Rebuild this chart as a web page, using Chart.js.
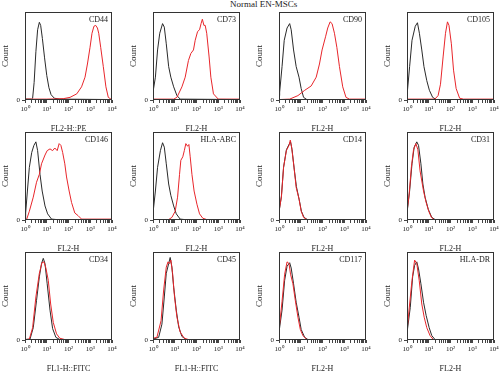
<!DOCTYPE html>
<html>
<head>
<meta charset="utf-8">
<script src="https://cdn.jsdelivr.net/npm/chart.js@4/dist/chart.umd.min.js"></script>
<style>
  body { margin: 0; width: 500px; height: 373px; overflow: hidden; background: #fff; position: relative; }
  #title { position: absolute; left: 230px; top: -1px; font: 9px 'Liberation Serif', serif; color: #222; white-space: nowrap; }
  .panel { position: absolute; }
</style>
</head>
<body>
<div id="title">Normal EN-MSCs</div>

<script>
// x in decades (10^0 .. 10^4), y = relative count
var xTickLabels = ["10\u2070", "10\u00B9", "10\u00B2", "10\u00B3", "10\u2074"];
var markers = ["CD44", "CD73", "CD90", "CD105", "CD146", "HLA-ABC", "CD14", "CD31", "CD34", "CD45", "CD117", "HLA-DR"];
var xTitles = ["FL2-H::PE", "FL2-H", "FL2-H", "FL2-H", "FL2-H", "FL2-H", "FL2-H", "FL2-H", "FL1-H::FITC", "FL1-H::FITC", "FL2-H", "FL2-H"];

// isotype control (black) and stained (red) histograms
var cd44Iso = [[0,0.01],[0.3,0.01],[0.35,0.02],[0.42,0.2],[0.5,0.55],[0.58,0.8],[0.66,0.885],[0.72,0.85],[0.8,0.7],[0.9,0.48],[1.0,0.28],[1.1,0.14],[1.2,0.06],[1.35,0.02],[1.6,0.01],[4,0.005]];
var cd44Pos = [[0,0.01],[1.0,0.01],[1.76,0.015],[2.07,0.03],[2.38,0.07],[2.6,0.15],[2.76,0.26],[2.87,0.41],[2.99,0.6],[3.08,0.76],[3.17,0.84],[3.25,0.85],[3.33,0.82],[3.39,0.76],[3.48,0.6],[3.6,0.38],[3.72,0.15],[3.83,0.03],[3.95,0.01],[4,0.01]];

var cd73Iso = [[0,0.09],[0.11,0.26],[0.21,0.57],[0.31,0.76],[0.44,0.87],[0.52,0.83],[0.61,0.64],[0.72,0.38],[0.82,0.26],[0.95,0.15],[1.1,0.05],[1.25,0.01],[4,0.005]];
var cd73Pos = [[0,0.01],[0.95,0.01],[1.1,0.03],[1.33,0.15],[1.48,0.26],[1.63,0.45],[1.74,0.53],[1.86,0.57],[1.94,0.68],[2.05,0.78],[2.14,0.8],[2.21,0.87],[2.27,0.92],[2.34,0.85],[2.4,0.85],[2.47,0.76],[2.58,0.49],[2.66,0.26],[2.78,0.07],[3.0,0.01],[4,0.01]];

var cd90Iso = [[0,0.05],[0.03,0.09],[0.14,0.38],[0.24,0.68],[0.37,0.82],[0.49,0.87],[0.56,0.8],[0.67,0.57],[0.79,0.38],[0.92,0.26],[1.02,0.13],[1.13,0.03],[1.28,0.005],[4,0.005]];
var cd90Pos = [[0,0.005],[0.49,0.01],[0.87,0.05],[1.18,0.11],[1.48,0.16],[1.71,0.26],[1.86,0.41],[1.98,0.57],[2.14,0.72],[2.24,0.82],[2.35,0.89],[2.44,0.87],[2.55,0.76],[2.66,0.6],[2.78,0.38],[2.93,0.15],[3.08,0.03],[3.24,0.01],[4,0.01]];

var cd105Iso = [[0,0.05],[0.12,0.38],[0.23,0.68],[0.38,0.84],[0.48,0.88],[0.57,0.76],[0.68,0.57],[0.78,0.38],[0.91,0.22],[1.03,0.11],[1.18,0.03],[1.35,0.005],[4,0.005]];
var cd105Pos = [[0,0.01],[1.28,0.01],[1.43,0.05],[1.54,0.18],[1.66,0.49],[1.77,0.76],[1.86,0.89],[1.93,0.85],[2.04,0.64],[2.14,0.34],[2.26,0.13],[2.42,0.02],[2.6,0.01],[4,0.01]];

var cd146Iso = [[0,0.01],[0.03,0.08],[0.11,0.33],[0.2,0.6],[0.31,0.77],[0.41,0.85],[0.5,0.89],[0.58,0.79],[0.69,0.52],[0.79,0.33],[0.92,0.16],[1.04,0.07],[1.22,0.01],[1.45,0.005],[4,0.005]];
var cd146Pos = [[0,0.005],[0.08,0.01],[0.2,0.1],[0.38,0.26],[0.53,0.43],[0.66,0.52],[0.76,0.64],[0.92,0.74],[1.02,0.79],[1.15,0.81],[1.27,0.79],[1.37,0.82],[1.48,0.79],[1.57,0.87],[1.65,0.85],[1.73,0.77],[1.83,0.64],[1.91,0.49],[2.03,0.33],[2.14,0.2],[2.29,0.08],[2.44,0.05],[2.6,0.01],[4,0.01]];

var hlaAbcIso = [[0,0.08],[0.11,0.33],[0.21,0.6],[0.34,0.79],[0.44,0.88],[0.52,0.83],[0.61,0.64],[0.72,0.41],[0.82,0.28],[0.95,0.16],[1.07,0.07],[1.25,0.01],[1.45,0.005],[4,0.005]];
var hlaAbcPos = [[0,0.005],[0.72,0.005],[0.87,0.03],[1.02,0.1],[1.13,0.26],[1.22,0.52],[1.28,0.68],[1.37,0.72],[1.44,0.79],[1.51,0.87],[1.59,0.84],[1.65,0.86],[1.71,0.72],[1.79,0.52],[1.89,0.33],[2.02,0.18],[2.14,0.07],[2.29,0.02],[2.47,0.005],[4,0.005]];

var cd14Iso = [[0,0.09],[0.11,0.27],[0.21,0.6],[0.34,0.8],[0.46,0.86],[0.53,0.89],[0.6,0.8],[0.7,0.58],[0.8,0.38],[0.93,0.23],[1.03,0.1],[1.15,0.03],[1.3,0.005],[4,0.005]];
var cd14Pos = [[0,0.1],[0.11,0.26],[0.21,0.6],[0.34,0.79],[0.46,0.85],[0.52,0.91],[0.58,0.83],[0.69,0.6],[0.79,0.37],[0.92,0.24],[1.02,0.1],[1.13,0.03],[1.28,0.005],[4,0.005]];

var cd31Iso = [[0,0.08],[0.03,0.08],[0.12,0.33],[0.23,0.64],[0.33,0.83],[0.45,0.89],[0.53,0.85],[0.64,0.64],[0.73,0.41],[0.83,0.26],[0.98,0.12],[1.14,0.03],[1.29,0.005],[4,0.005]];
var cd31Pos = [[0,0.09],[0.1,0.3],[0.2,0.6],[0.3,0.8],[0.41,0.87],[0.5,0.8],[0.6,0.56],[0.76,0.33],[0.88,0.2],[1.0,0.1],[1.12,0.03],[1.25,0.005],[4,0.005]];

var cd34Iso = [[0,0.005],[0.23,0.01],[0.38,0.14],[0.53,0.45],[0.66,0.72],[0.76,0.87],[0.84,0.93],[0.92,0.87],[1.02,0.64],[1.15,0.34],[1.27,0.13],[1.42,0.03],[1.6,0.005],[4,0.005]];
var cd34Pos = [[0,0.005],[0.2,0.01],[0.35,0.14],[0.5,0.49],[0.66,0.76],[0.78,0.88],[0.87,0.89],[0.96,0.82],[1.07,0.68],[1.18,0.41],[1.3,0.2],[1.45,0.07],[1.6,0.02],[1.83,0.005],[4,0.005]];

var cd45Iso = [[0,0.01],[0.26,0.03],[0.41,0.18],[0.52,0.49],[0.61,0.76],[0.72,0.87],[0.79,0.94],[0.87,0.83],[0.95,0.6],[1.07,0.34],[1.18,0.15],[1.33,0.04],[1.53,0.005],[4,0.005]];
var cd45Pos = [[0,0.02],[0.18,0.03],[0.37,0.22],[0.49,0.57],[0.61,0.83],[0.69,0.89],[0.76,0.87],[0.82,0.91],[0.9,0.76],[0.99,0.49],[1.1,0.26],[1.25,0.09],[1.44,0.02],[1.63,0.005],[4,0.005]];

var cd117Iso = [[0,0.09],[0.03,0.09],[0.14,0.34],[0.26,0.68],[0.37,0.84],[0.49,0.88],[0.56,0.82],[0.67,0.64],[0.79,0.43],[0.92,0.26],[1.02,0.12],[1.18,0.03],[1.33,0.005],[4,0.005]];
var cd117Pos = [[0,0.11],[0.03,0.11],[0.14,0.44],[0.26,0.75],[0.37,0.89],[0.46,0.87],[0.53,0.75],[0.64,0.64],[0.75,0.45],[0.87,0.26],[0.98,0.12],[1.1,0.05],[1.28,0.005],[4,0.005]];

var hlaDrIso = [[0,0.08],[0.03,0.08],[0.15,0.37],[0.26,0.72],[0.35,0.85],[0.45,0.89],[0.53,0.81],[0.64,0.64],[0.76,0.43],[0.88,0.28],[1.02,0.14],[1.14,0.05],[1.29,0.005],[4,0.005]];
var hlaDrPos = [[0,0.1],[0.12,0.41],[0.23,0.68],[0.35,0.91],[0.45,0.87],[0.56,0.68],[0.68,0.41],[0.79,0.26],[0.91,0.14],[1.06,0.05],[1.21,0.005],[4,0.005]];

var isoSeries = [cd44Iso, cd73Iso, cd90Iso, cd105Iso, cd146Iso, hlaAbcIso, cd14Iso, cd31Iso, cd34Iso, cd45Iso, cd117Iso, hlaDrIso];
var posSeries = [cd44Pos, cd73Pos, cd90Pos, cd105Pos, cd146Pos, hlaAbcPos, cd14Pos, cd31Pos, cd34Pos, cd45Pos, cd117Pos, hlaDrPos];

var colLeft = [25, 153, 279, 407];   // left edge of each plot box
var rowTop = [12, 132, 252];         // top edge of each plot box
var boxW = 87, boxH = 88;
var axisW = 25, axisH = 38, padTop = 6, padRight = 8;

Chart.defaults.font.family = "'Liberation Serif', 'Times New Roman', serif";
Chart.defaults.color = "#222";

// frame around plot area + marker name in the corner
var framePlugin = {
  id: "frame",
  afterDraw: function (chart, args, opts) {
    var a = chart.chartArea;
    var ctx = chart.ctx;
    ctx.save();
    ctx.strokeStyle = "#333";
    ctx.lineWidth = 1;
    ctx.strokeRect(Math.round(a.left) + 0.5, Math.round(a.top) + 0.5,
      Math.round(a.right - a.left) - 1, Math.round(a.bottom - a.top) - 1);
    ctx.fillStyle = "#222";
    ctx.font = "8px 'Liberation Serif', serif";
    ctx.textAlign = "right";
    ctx.textBaseline = "middle";
    ctx.fillText(opts.marker, a.right - 4, a.top + 8);
    ctx.restore();
  }
};

function toPoints(arr) {
  return arr.map(function (p) { return { x: p[0], y: p[1] }; });
}

function xTicks(scale) {
  var t = [];
  for (var d = 0; d <= 4; d++) {
    t.push({ value: d });
    if (d < 4) {
      for (var k = 2; k <= 9; k++) t.push({ value: d + Math.log10(k) });
    }
  }
  scale.ticks = t;
}

for (var i = 0; i < 12; i++) {
  var row = Math.floor(i / 4), col = i % 4;
  var div = document.createElement("div");
  div.className = "panel";
  div.style.left = (colLeft[col] - axisW) + "px";
  div.style.top = (rowTop[row] - padTop) + "px";
  var canvas = document.createElement("canvas");
  canvas.width = axisW + boxW + padRight;
  canvas.height = padTop + boxH + axisH;
  div.appendChild(canvas);
  document.body.appendChild(div);

  new Chart(canvas.getContext("2d"), {
    type: "line",
    data: {
      datasets: [
        {
          label: markers[i],
          data: toPoints(posSeries[i]),
          borderColor: "#e8262b",
          borderWidth: 1,
          pointRadius: 0,
          tension: 0
        },
        {
          label: "control",
          data: toPoints(isoSeries[i]),
          borderColor: "#2a2a2a",
          borderWidth: 1,
          pointRadius: 0,
          tension: 0
        }
      ]
    },
    options: {
      responsive: false,
      animation: false,
      layout: { padding: { top: padTop, right: padRight, left: 0, bottom: 0 } },
      plugins: {
        legend: { display: false },
        tooltip: { enabled: false },
        frame: { marker: markers[i] }
      },
      scales: {
        x: {
          type: "linear",
          min: 0,
          max: 4,
          afterBuildTicks: xTicks,
          afterFit: function (s) { s.height = axisH; },
          border: { display: false },
          grid: { drawOnChartArea: false, drawTicks: true, tickLength: 3, color: "#444" },
          ticks: {
            autoSkip: false,
            maxRotation: 0,
            padding: 2,
            font: { size: 7 },
            callback: function (v) {
              return Number.isInteger(v) ? xTickLabels[v] : "";
            }
          },
          title: { display: true, text: xTitles[i], font: { size: 8 }, padding: { top: 0, bottom: 4 } }
        },
        y: {
          min: 0,
          max: 1,
          afterBuildTicks: function (s) { s.ticks = [{ value: 0 }]; },
          afterFit: function (s) { s.width = axisW; },
          border: { display: false },
          grid: { drawOnChartArea: false, drawTicks: true, tickLength: 3, color: "#444" },
          ticks: { padding: 2, font: { size: 7 } },
          title: { display: true, text: "Count", font: { size: 9 }, padding: { top: 0, bottom: 0 } }
        }
      }
    },
    plugins: [framePlugin]
  });
}
</script>
</body>
</html>
